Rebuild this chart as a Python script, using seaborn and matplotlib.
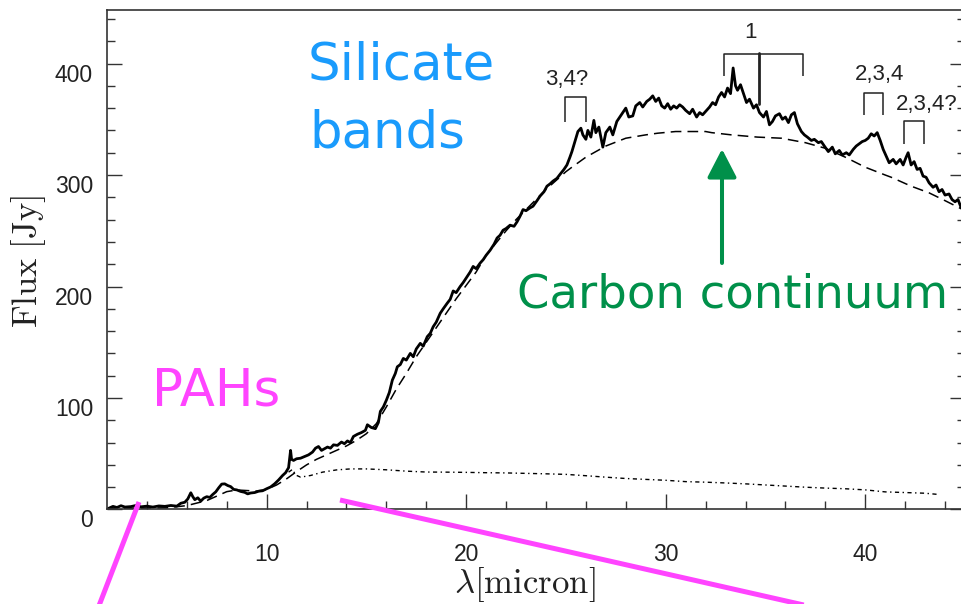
import matplotlib
matplotlib.use("Agg")
import matplotlib.pyplot as plt
import pandas as pd
import seaborn as sns
from matplotlib.lines import Line2D
from matplotlib.patches import FancyArrowPatch

# Observed spectrum (micron, Jy)
spec_wave = [2.10, 2.30, 2.50, 2.70, 2.90, 3.20, 3.50, 3.70, 4.00, 4.30, 4.60, 4.90, 5.20, 5.50,
             5.70, 5.90, 6.05, 6.20, 6.30, 6.40, 6.55, 6.70, 6.85, 7.00, 7.15, 7.30, 7.45, 7.60,
             7.75, 7.90, 8.05, 8.20, 8.35, 8.50, 8.70, 8.90, 9.05, 9.20, 9.40, 9.60, 9.80, 10.00,
             10.20, 10.40, 10.60, 10.80, 10.95, 11.10, 11.20, 11.25, 11.35, 11.50, 11.70, 11.90,
             12.10, 12.30, 12.45, 12.60, 12.75, 12.90, 13.05, 13.20, 13.35, 13.55, 13.75, 13.90,
             14.05, 14.20, 14.35, 14.55, 14.75, 14.95, 15.05, 15.25, 15.45, 15.60, 15.70, 15.85,
             16.00, 16.15, 16.30, 16.45, 16.55, 16.70, 16.85, 17.00, 17.20, 17.35, 17.50, 17.70,
             17.85, 18.05, 18.20, 18.35, 18.50, 18.70, 18.85, 19.05, 19.20, 19.35, 19.50, 19.70,
             19.85, 20.05, 20.20, 20.35, 20.50, 20.70, 20.85, 21.00, 21.20, 21.40, 21.55, 21.70,
             21.85, 22.00, 22.20, 22.40, 22.55, 22.70, 22.85, 23.00, 23.20, 23.35, 23.55, 23.70,
             23.90, 24.05, 24.20, 24.35, 24.55, 24.70, 24.90, 25.05, 25.20, 25.30, 25.45, 25.60,
             25.75, 25.85, 26.00, 26.10, 26.25, 26.40, 26.50, 26.65, 26.85, 27.00, 27.20, 27.35,
             27.55, 27.70, 27.85, 28.00, 28.15, 28.35, 28.50, 28.70, 28.85, 29.05, 29.20, 29.35,
             29.50, 29.65, 29.80, 29.95, 30.10, 30.25, 30.40, 30.55, 30.70, 30.85, 31.00, 31.20,
             31.35, 31.55, 31.70, 31.85, 32.00, 32.20, 32.35, 32.50, 32.65, 32.80, 32.95, 33.10,
             33.25, 33.38, 33.50, 33.60, 33.75, 33.90, 34.05, 34.20, 34.40, 34.55, 34.70, 34.90,
             35.05, 35.20, 35.35, 35.50, 35.70, 35.85, 36.00, 36.15, 36.30, 36.45, 36.60, 36.80,
             36.95, 37.10, 37.30, 37.45, 37.65, 37.80, 37.95, 38.15, 38.35, 38.50, 38.70, 38.85,
             39.05, 39.20, 39.40, 39.55, 39.70, 39.85, 40.00, 40.15, 40.30, 40.45, 40.60, 40.75,
             40.90, 41.05, 41.20, 41.40, 41.55, 41.75, 41.90, 42.05, 42.15, 42.30, 42.45, 42.60,
             42.75, 42.90, 43.05, 43.20, 43.40, 43.55, 43.70, 43.85, 44.00, 44.20, 44.35, 44.50,
             44.65, 44.80, 44.95]
spec_flux = [1.2, 2.8, 1.8, 3.4, 2.2, 2.6, 3.8, 2.4, 3.0, 2.2, 3.2, 2.8, 3.6, 3.0,
             5.6, 6.5, 9.5, 15.0, 11.5, 8.8, 10.5, 7.5, 10.2, 11.5, 10.8, 13.5, 15.8, 19.5,
             22.8, 23.0, 21.5, 20.5, 18.0, 17.6, 16.2, 15.4, 14.0, 14.8, 15.2, 16.4, 16.8, 18.6,
             20.2, 23.0, 26.5, 30.5, 33.0, 37.5, 53.0, 45.0, 44.0, 45.5, 46.0, 47.5,
             49.0, 51.5, 55.0, 56.5, 53.0, 54.5, 56.0, 55.0, 58.0, 57.5, 60.5, 59.0,
             61.5, 60.0, 65.5, 67.5, 69.0, 71.0, 76.0, 73.5, 72.5, 78.0, 88.0, 92.0,
             98.0, 105.0, 116.0, 122.0, 128.0, 130.0, 135.5, 134.0, 140.0, 137.0, 144.0, 149.0,
             146.5, 155.0, 158.0, 164.0, 168.0, 176.0, 180.0, 185.0, 188.5, 196.0, 194.5, 200.0,
             203.5, 209.0, 213.0, 218.0, 216.0, 221.0, 224.0, 228.0, 232.5, 238.0, 243.5, 246.0,
             250.5, 252.0, 255.0, 254.0, 258.0, 263.0, 269.0, 268.0, 270.5, 272.0, 277.0, 281.0,
             285.0, 290.0, 292.0, 294.5, 297.0, 300.5, 305.0, 309.0, 316.0, 321.0, 330.0, 339.0,
             342.0, 336.0, 332.0, 340.0, 334.0, 349.0, 338.0, 343.0, 325.0, 338.0, 343.0, 336.0,
             348.0, 352.0, 356.0, 360.0, 352.0, 353.0, 362.0, 365.0, 361.0, 366.0, 368.0, 371.0,
             366.0, 369.0, 362.0, 360.0, 364.0, 359.0, 362.0, 360.0, 363.0, 361.0, 358.0, 355.0,
             359.0, 352.0, 356.0, 354.0, 357.0, 361.0, 365.0, 363.0, 370.0, 374.0, 370.0, 378.0,
             373.0, 396.0, 380.0, 376.0, 381.0, 373.0, 365.0, 368.0, 360.0, 363.0, 356.0, 352.0,
             357.0, 345.0, 348.0, 353.0, 355.0, 350.0, 352.0, 347.0, 354.0, 356.0, 346.0, 339.0,
             336.0, 334.0, 331.0, 332.0, 329.0, 330.0, 326.0, 321.0, 325.0, 319.0, 322.0, 318.0,
             320.0, 318.0, 323.0, 326.0, 328.0, 330.0, 331.0, 333.0, 337.0, 335.0, 338.0, 331.0,
             323.0, 317.0, 311.0, 314.0, 310.0, 314.0, 309.0, 316.0, 320.0, 309.0, 312.0, 305.0,
             306.0, 299.0, 298.0, 293.0, 289.0, 291.0, 285.0, 287.0, 282.0, 283.0, 278.0, 276.0,
             278.0, 271.0, 273.0]

# Carbon continuum model
cont_wave = [2.0, 5.0, 6.0, 7.0, 7.5, 8.0, 8.5, 9.0, 9.5, 10.0, 10.5, 11.0, 11.5, 12.0, 12.5,
             13.0, 13.5, 14.0, 14.5, 15.0, 15.5, 16.0, 16.5, 17.0, 17.5, 18.0, 18.5, 19.0,
             19.5, 20.0, 20.5, 21.0, 21.5, 22.0, 22.5, 23.0, 23.5, 24.0, 24.5, 25.0, 25.3,
             26.0, 26.4, 27.0, 28.0, 29.0, 29.6, 30.5, 31.1, 32.0, 32.3, 33.3, 34.6, 35.8,
             37.0, 38.0, 39.0, 40.0, 41.0, 41.3, 42.3, 43.2, 44.0, 45.0]
cont_flux = [1.0, 1.5, 3.5, 8.0, 12.0, 16.0, 17.5, 17.0, 16.5, 18.0, 22.0, 27.5, 34.0, 40.0, 45.0,
             49.0, 53.0, 57.0, 62.0, 68.0, 77.0, 92.0, 108.0, 122.0, 137.0, 150.0, 163.0, 176.0,
             189.0, 201.0, 213.0, 228.0, 239.0, 250.0, 260.0, 269.0, 278.0, 287.0, 295.0, 303.0, 307.0,
             316.0, 320.0, 326.0, 333.0, 336.0, 337.5, 339.0, 339.0, 339.0, 338.0, 336.0, 334.0, 333.0,
             329.0, 324.0, 316.0, 307.0, 300.0, 298.0, 290.0, 284.0, 277.0, 268.0]

# Lower dotted component
low_wave = [11.1, 11.3, 11.45, 11.7, 12.2, 12.8, 13.5, 14.2, 15.0, 16.0, 17.0, 18.0, 19.0, 20.0,
            21.0, 22.0, 23.0, 24.0, 25.0, 26.0, 27.0, 28.0, 29.0, 30.0, 31.0, 32.0, 33.0, 34.0,
            35.0, 36.0, 37.0, 38.0, 39.0, 40.0, 41.0, 42.0, 43.0, 43.6]
low_flux = [33.5, 36.0, 31.0, 29.0, 30.5, 33.5, 35.5, 36.4, 36.4, 35.6, 34.4, 33.6, 33.5, 33.3,
            33.0, 32.8, 32.4, 32.0, 31.5, 30.3, 29.0, 27.8, 27.0, 26.2, 25.0, 24.5, 23.8, 23.0,
            22.0, 21.0, 20.0, 19.2, 18.6, 17.6, 15.8, 15.2, 14.6, 13.6]

x_ticks = [10, 20, 30, 40]
y_ticks = [0, 100, 200, 300, 400]

# Feature identifications above the spectrum
band_labels = ["1", "3,4?", "2,3,4", "2,3,4?"]

sns.set_theme(style="ticks")
plt.rcParams["font.family"] = ["Liberation Sans", "DejaVu Sans"]
plt.rcParams["mathtext.fontset"] = "cm"

fig = plt.figure(figsize=(9.61, 6.04), dpi=100)
ax = fig.add_axes([0.11134, 0.15646, 0.89282, 0.82699])

ink = "#222222"

spec = pd.DataFrame({"wave": spec_wave, "flux": spec_flux})
cont = pd.DataFrame({"wave": cont_wave, "flux": cont_flux})
low = pd.DataFrame({"wave": low_wave, "flux": low_flux})

sns.lineplot(data=cont, x="wave", y="flux", ax=ax, color="black", lw=1.1,
             estimator=None, sort=False)
ax.lines[-1].set_dashes([7, 4])
sns.lineplot(data=low, x="wave", y="flux", ax=ax, color="black", lw=1.0,
             estimator=None, sort=False)
ax.lines[-1].set_dashes([3, 2.5, 1, 2.5])
sns.lineplot(data=spec, x="wave", y="flux", ax=ax, color="black", lw=2.0,
             estimator=None, sort=False)

# Brackets marking the band identifications
bk = dict(color=ink, lw=1.1, solid_capstyle="butt", clip_on=False)
ax.plot([32.93, 32.93, 36.89, 36.89], [389.1, 408.9, 408.9, 389.1], **bk)
ax.plot([34.68, 34.68], [409.5, 364.0], color=ink, lw=2.0, clip_on=False)
ax.plot([24.96, 24.96, 26.01, 26.01], [347.8, 370.3, 370.3, 347.8], **bk)
ax.plot([39.94, 39.94, 40.90, 40.90], [354.1, 373.9, 373.9, 354.1], **bk)
ax.plot([41.95, 41.95, 42.95, 42.95], [328.1, 348.7, 348.7, 328.1], **bk)

lab = dict(fontsize=16, color=ink, ha="center", va="center")
ax.text(34.23, 427.7, band_labels[0], **lab)
ax.text(25.06, 385.5, band_labels[1], **lab)
ax.text(40.70, 390.0, band_labels[2], **lab)
ax.text(43.10, 363.1, band_labels[3], **lab)

ax.set_xlim(2, 45)
ax.set_ylim(0, 448)
ax.set_xticks(x_ticks)
ax.set_xticks([x for x in range(4, 46, 2) if x not in x_ticks], minor=True)
ax.set_yticks(y_ticks)
ax.set_yticks([y for y in range(20, 448, 20) if y not in y_ticks], minor=True)
ax.set_xticklabels([str(v) for v in x_ticks])
ax.set_yticklabels([str(v) for v in y_ticks])

ax.tick_params(which="both", direction="in", right=True, top=False, colors="#333333",
               width=1.0, labelsize=16.5, labelcolor=ink)
ax.tick_params(which="major", length=11)
ax.tick_params(which="minor", length=5.8)
ax.tick_params(axis="x", which="major", pad=24)
ax.tick_params(axis="y", which="major", pad=10)
for t in ax.yaxis.get_major_ticks():
    t.label1.set_va("top")

for s in ax.spines.values():
    s.set_color("#333333")
    s.set_linewidth(1.2)

ax.set_xlabel(r"$\lambda[\mathrm{micron}]$", fontsize=25, color=ink, va="center")
ax.set_ylabel(r"$\mathrm{Flux\ [Jy]}$", fontsize=25, color=ink, va="center")
ax.xaxis.set_label_coords(0.487, -0.150)
ax.yaxis.set_label_coords(-0.091, 0.496)

# Overlay labels
W, H = 961.0, 604.0
def fx(px):
    return px / W
def fy(py):
    return 1 - py / H

fig.text(fx(308), fy(79), "Silicate", fontsize=37, color="#1A9BFC",
         family="DejaVu Sans", ha="left", va="baseline")
fig.text(fx(309), fy(148), "bands", fontsize=37, color="#1A9BFC",
         family="DejaVu Sans", ha="left", va="baseline")
fig.text(fx(152), fy(405), "PAHs", fontsize=37, color="#FF44FF",
         family="DejaVu Sans", ha="left", va="baseline")
fig.text(fx(517), fy(307), "Carbon continuum", fontsize=33.5, color="#00904A",
         family="DejaVu Sans", ha="left", va="baseline")

arrow = FancyArrowPatch((fx(722), fy(263)), (fx(722), fy(149)),
                        transform=fig.transFigure,
                        arrowstyle="-|>,head_length=0.6,head_width=0.31",
                        mutation_scale=29, lw=2.9, color="#00904A",
                        shrinkA=0, shrinkB=0)
fig.add_artist(arrow)

fig.add_artist(Line2D([fx(139), fx(95)], [fy(502), fy(616)], transform=fig.transFigure,
                      color="#FF44FF", lw=3.6, solid_capstyle="butt"))
fig.add_artist(Line2D([fx(340), fx(870)], [fy(500), fy(620)], transform=fig.transFigure,
                      color="#FF44FF", lw=3.6, solid_capstyle="butt"))

fig.savefig("out.png", dpi=100)
